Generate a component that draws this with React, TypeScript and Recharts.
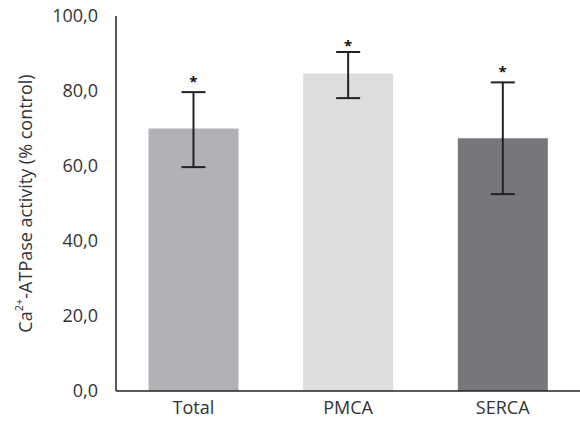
import React from "react";
import { ComposedChart, Bar, XAxis, YAxis, ErrorBar, Scatter, Cell } from "recharts";

const categories = ["Total", "PMCA", "SERCA"];
const values = [70.0, 84.7, 67.4];
const errors: [number, number][] = [[10.3, 9.7], [6.6, 5.7], [14.9, 14.9]];
const starLevels = [83.1, 92.8, 85.8];
const barColors = ["#b1b2b5", "#dcdddf", "#76777b"];
const yTicks = [0, 20, 40, 60, 80, 100];

const data = categories.map((name, i) => ({
  name,
  value: values[i],
  err: errors[i],
  star: starLevels[i],
}));

const FONT = "'Open Sans', 'Noto Sans', sans-serif";
const TEXT = "#333333";

const StarShape = (props: any) => {
  const { cx, cy } = props;
  if (cx == null || cy == null) return null;
  return (
    <text x={cx} y={cy + 8} textAnchor="middle" fontFamily={FONT} fontWeight="bold" fontSize={15} fill="#111">
      *
    </text>
  );
};

const YLabel = (props: any) => {
  const vb = props.viewBox || {};
  const cy = vb.y + vb.height / 2;
  const cx = 25;
  return (
    <text
      x={cx}
      y={cy}
      transform={`rotate(-90, ${cx}, ${cy})`}
      textAnchor="middle"
      dominantBaseline="central"
      fontFamily={FONT}
      fontSize={18}
      fill={TEXT}
    >
      Ca
      <tspan fontSize={11} dy={-7}>2+</tspan>
      <tspan dy={7}>-ATPase activity (% control)</tspan>
    </text>
  );
};

export default function App() {
  return (
    <div style={{ position: "absolute", left: 0, top: 0, background: "#fff" }}>
      <ComposedChart
        width={580}
        height={422}
        data={data}
        margin={{ top: 16, right: 0, bottom: 0, left: 0 }}
        barCategoryGap="21%"
      >
        <XAxis
          dataKey="name"
          height={31}
          tickLine={false}
          tickMargin={4}
          axisLine={{ stroke: "#222", strokeWidth: 1.5 }}
          tick={{ fontFamily: FONT, fontSize: 18, fill: TEXT }}
        />
        <YAxis
          width={116}
          domain={[0, 100]}
          ticks={yTicks}
          interval={0}
          tickLine={false}
          tickMargin={12}
          axisLine={{ stroke: "#222", strokeWidth: 1.5 }}
          tick={{ fontFamily: FONT, fontSize: 18, fill: TEXT }}
          tickFormatter={(v: number) => v.toFixed(1).replace(".", ",")}
          label={<YLabel />}
        />
        <Bar dataKey="value" isAnimationActive={false}>
          {data.map((d, i) => (
            <Cell key={d.name} fill={barColors[i]} />
          ))}
          <ErrorBar dataKey="err" width={12} stroke="#222" strokeWidth={2} direction="y" />
        </Bar>
        <Scatter dataKey="star" isAnimationActive={false} shape={<StarShape />} />
      </ComposedChart>
    </div>
  );
}
